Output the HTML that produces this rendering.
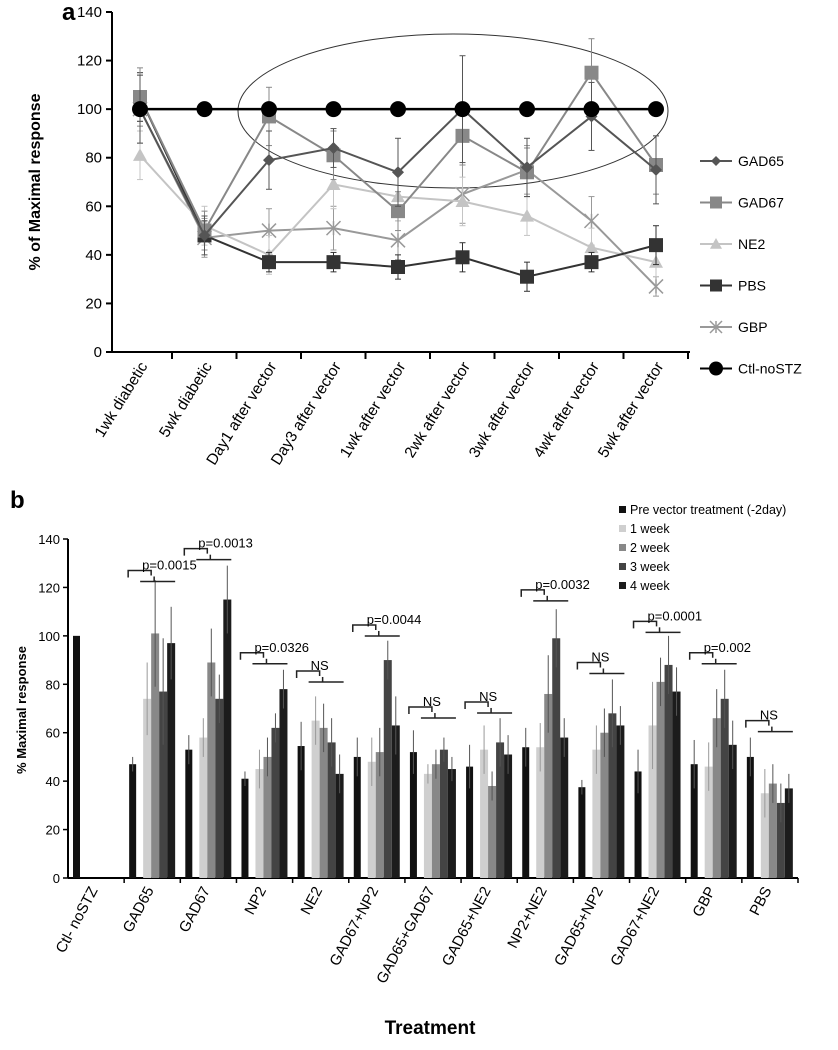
<!DOCTYPE html>
<html><head><meta charset="utf-8">
<style>
html,body{margin:0;padding:0;background:#fff;}
svg{display:block;font-family:"Liberation Sans",sans-serif;}
</style></head>
<body>
<svg id="fig" width="838" height="1050" viewBox="0 0 838 1050">
<g id="pa"></g>
<g id="pb"></g>
</svg>
<script>
// ---- Panel a data ----
const aCats = ["1wk diabetic","5wk diabetic","Day1 after vector","Day3 after vector","1wk after vector","2wk after vector","3wk after vector","4wk after vector","5wk after vector"];
const aTicks = [0,20,40,60,80,100,120,140];
const aNames = ["GAD65","GAD67","NE2","PBS","GBP","Ctl-noSTZ"];
const gad65 = [100,48,79,84,74,100,76,97,75];
const gad67 = [105,50,97,81,58,89,74,115,77];
const ne2 = [81,52,40,69,64,62,56,43,37];
const pbs = [105,48,37,37,35,39,31,37,44];
const gbp = [100,47,50,51,46,65,75,54,27];
const ctl = [100,100,100,100,100,100,100,100,100];
const gad65Err = [14,8,12,8,14,22,12,14,14];
const gad67Err = [12,8,12,10,8,12,10,14,12];
const ne2Err = [10,8,8,10,10,10,8,8,6];
const pbsErr = [10,6,4,4,5,6,6,4,8];
const gbpErr = [14,8,9,9,8,12,10,10,4];

// ---- Panel b data ----
const bCats = ["Ctl- noSTZ","GAD65","GAD67","NP2","NE2","GAD67+NP2","GAD65+GAD67","GAD65+NE2","NP2+NE2","GAD65+NP2","GAD67+NE2","GBP","PBS"];
const bTicks = [0,20,40,60,80,100,120,140];
const bSeries = ["Pre vector treatment (-2day)","1 week","2 week","3 week","4 week"];
const preVals = [100,47,53,41,54.5,50,52,46,54,37.5,44,47,50];
const wk1Vals = [null,74,58,45,65,48,43,53,54,53,63,46,35];
const wk2Vals = [null,101,89,50,62,52,47,38,76,60,81,66,39];
const wk3Vals = [null,77,74,62,56,90,53,56,99,68,88,74,31];
const wk4Vals = [null,97,115,78,43,63,45,51,58,63,77,55,37];
const preErr = [0,3,6,3,10,8,9,9,8,3,9,10,8];
const wk1Err = [null,15,8,8,10,10,4,10,10,10,18,10,10];
const wk2Err = [null,22,14,8,10,10,6,6,16,10,10,12,8];
const wk3Err = [null,22,10,6,10,8,5,10,12,14,12,12,8];
const wk4Err = [null,15,14,8,8,12,5,8,8,8,10,10,6];
const annLabels = [null,"p=0.0015","p=0.0013","p=0.0326","NS","p=0.0044","NS","NS","p=0.0032","NS","p=0.0001","p=0.002","NS"];
const annLevels = [null,127,136,93,85.5,104.5,70.6,72.7,119,89,106,93,65];

const NS="http://www.w3.org/2000/svg";
function mk(parent,tag,attrs,text){const e=document.createElementNS(NS,tag);for(const k in attrs)e.setAttribute(k,attrs[k]);if(text!==undefined)e.textContent=text;parent.appendChild(e);return e;}

// ===== Panel A =====
const pa=document.getElementById('pa');
const aX0=112, aX1=690, aY0=352, aY1=12;
const ay=v=>aY0-(v/140)*(aY0-aY1);
const ax=i=>140+i*64.5;
let t=mk(pa,'text',{x:62,y:20,'font-size':24,'font-weight':'bold'},'a');


let ax1=mk(pa,'line',{x1:aX0,y1:aY1,x2:aX0,y2:aY0,stroke:'#000','stroke-width':2});


let ax2=mk(pa,'line',{x1:aX0,y1:aY0,x2:aX1,y2:aY0,stroke:'#000','stroke-width':2});


aTicks.forEach(v=>{
  mk(pa,'line',{x1:aX0-6,y1:ay(v),x2:aX0,y2:ay(v),stroke:'#000','stroke-width':2});
  const l=mk(pa,'text',{x:aX0-10,y:ay(v)+5,'font-size':15,'text-anchor':'end'},v);
  
  
});
aCats.forEach((c,i)=>{
  const tx=ax(i)+32;
  mk(pa,'line',{x1:tx,y1:aY0,x2:tx,y2:aY0+7,stroke:'#000','stroke-width':2});
  const lx=ax(i)+8, ly=aY0+14;
  const l=mk(pa,'text',{x:lx,y:ly,'font-size':15.5,'text-anchor':'end',transform:`rotate(-58 ${lx} ${ly})`},c);
  
  
});
let yt=mk(pa,'text',{x:40,y:182,'font-size':16,'font-weight':'bold','text-anchor':'middle',transform:'rotate(-90 40 182)'},'% of Maximal response');


let ell=mk(pa,'ellipse',{cx:453,cy:111,rx:215,ry:77,fill:'none',stroke:'#333','stroke-width':1});



const aSeries=[
 {d:gbp,e:gbpErr,c:'#999',m:'x',n:'GBP'},
 {d:ne2,e:ne2Err,c:'#c4c4c4',m:'tri',n:'NE2'},
 {d:pbs,e:pbsErr,c:'#333',m:'sq',n:'PBS'},
 {d:gad67,e:gad67Err,c:'#888',m:'sq',n:'GAD67'},
 {d:gad65,e:gad65Err,c:'#555',m:'dia',n:'GAD65'},
 {d:ctl,e:null,c:'#000',m:'circ',n:'Ctl-noSTZ'}];
function marker(g,m,x,y,c,s){
  if(m==='sq')return mk(g,'rect',{x:x-s,y:y-s,width:2*s,height:2*s,fill:c});
  if(m==='circ')return mk(g,'circle',{cx:x,cy:y,r:s,fill:c});
  if(m==='dia')return mk(g,'polygon',{points:`${x},${y-s} ${x+s},${y} ${x},${y+s} ${x-s},${y}`,fill:c});
  if(m==='tri')return mk(g,'polygon',{points:`${x},${y-s} ${x+s},${y+s*0.8} ${x-s},${y+s*0.8}`,fill:c});
  const gg=mk(g,'g',{stroke:c,'stroke-width':1.5});
  mk(gg,'line',{x1:x-s,y1:y-s,x2:x+s,y2:y+s});mk(gg,'line',{x1:x-s,y1:y+s,x2:x+s,y2:y-s});mk(gg,'line',{x1:x,y1:y-s,x2:x,y2:y+s});
  return gg;
}
const sizes={sq:7,circ:8,dia:6,tri:7,x:7};
aSeries.forEach(s=>{
  const g=mk(pa,'g',{});
  
  
  if(s.e) s.d.forEach((v,i)=>{mk(g,'line',{x1:ax(i),y1:ay(v-s.e[i]),x2:ax(i),y2:ay(v+s.e[i]),stroke:s.c,'stroke-width':1});
    mk(g,'line',{x1:ax(i)-3,y1:ay(v+s.e[i]),x2:ax(i)+3,y2:ay(v+s.e[i]),stroke:s.c});
    mk(g,'line',{x1:ax(i)-3,y1:ay(v-s.e[i]),x2:ax(i)+3,y2:ay(v-s.e[i]),stroke:s.c});});
  mk(g,'polyline',{points:s.d.map((v,i)=>ax(i)+','+ay(v)).join(' '),fill:'none',stroke:s.c,'stroke-width':s.n==='Ctl-noSTZ'?2.5:2});
  s.d.forEach((v,i)=>{const mm=marker(g,s.m,ax(i),ay(v),s.c,sizes[s.m]);
    
    });
});
const legA=[{n:'GAD65',c:'#555',m:'dia'},{n:'GAD67',c:'#888',m:'sq'},{n:'NE2',c:'#c4c4c4',m:'tri'},{n:'PBS',c:'#333',m:'sq'},{n:'GBP',c:'#999',m:'x'},{n:'Ctl-noSTZ',c:'#000',m:'circ'}];
legA.forEach((l,i)=>{
  const y=161+i*41.5;
  const g=mk(pa,'g',{});
  
  
  mk(g,'line',{x1:700,y1:y,x2:732,y2:y,stroke:l.c,'stroke-width':2});
  marker(g,l.m,716,y,l.c,sizes[l.m]-1);
  mk(g,'text',{x:738,y:y+5,'font-size':14},l.n);
});

// ===== Panel B =====
const pb=document.getElementById('pb');
const bX0=68, bX1=798, bY0=878, bY1=539;
const by=v=>bY0-(v/140)*(bY0-bY1);
const gw=(bX1-bX0)/bCats.length;
const gx=i=>bX0+i*gw;
let tb=mk(pb,'text',{x:10,y:508,'font-size':24,'font-weight':'bold'},'b');


let bya=mk(pb,'line',{x1:bX0,y1:bY1,x2:bX0,y2:bY0,stroke:'#000','stroke-width':2});


let bxa=mk(pb,'line',{x1:bX0,y1:bY0,x2:bX1,y2:bY0,stroke:'#000','stroke-width':2});


bTicks.forEach(v=>{
  mk(pb,'line',{x1:bX0-5,y1:by(v),x2:bX0,y2:by(v),stroke:'#000','stroke-width':1.5});
  const l=mk(pb,'text',{x:bX0-8,y:by(v)+5,'font-size':13,'text-anchor':'end'},v);
  
  
});
let byt=mk(pb,'text',{x:26,y:710,'font-size':13,'font-weight':'bold','text-anchor':'middle',transform:'rotate(-90 26 710)'},'% Maximal response');


let xtt=mk(pb,'text',{x:430,y:1034,'font-size':19,'font-weight':'bold','text-anchor':'middle'},'Treatment');


const bCols=['#111','#cfcfcf','#888','#444','#1c1c1c'];
const allV=[preVals,wk1Vals,wk2Vals,wk3Vals,wk4Vals];
const allE=[preErr,wk1Err,wk2Err,wk3Err,wk4Err];
const barOff=[5,19,27,35,43], barW=[7,8,8,8,8];
bCats.forEach((c,i)=>{
  const g0=gx(i);
  mk(pb,'line',{x1:g0+gw,y1:bY0,x2:g0+gw,y2:bY0+5,stroke:'#000','stroke-width':1.5});
  const lx=g0+gw/2+2;
  const l=mk(pb,'text',{x:lx,y:bY0+12,'font-size':15,'text-anchor':'end',transform:`rotate(-62 ${lx} ${bY0+12})`},c);
  
  
  allV.forEach((arr,k)=>{
    const v=arr[i]; if(v===null)return;
    const x=g0+barOff[k];
    const r=mk(pb,'rect',{x:x,y:by(v),width:barW[k],height:bY0-by(v),fill:bCols[k]});
    
    
    const e=allE[k][i];
    if(e) mk(pb,'line',{x1:x+barW[k]/2,y1:by(v-e),x2:x+barW[k]/2,y2:by(v+e),stroke:k===1?'#999':'#555','stroke-width':1});
  });
  if(annLabels[i]){
    const yT=by(annLevels[i]);
    const g=mk(pb,'g',{stroke:'#222','stroke-width':1.5,fill:'none'});
    
    
    mk(g,'polyline',{points:`${g0+4},${yT+7} ${g0+4},${yT} ${g0+27},${yT} ${g0+27},${yT+5}`});
    mk(g,'line',{x1:g0+16,y1:yT+11,x2:g0+51,y2:yT+11});
    mk(g,'line',{x1:g0+30,y1:yT+6,x2:g0+30,y2:yT+11});
    const at=mk(pb,'text',{x:g0+18,y:yT-1,'font-size':13},annLabels[i]);
    
    
  }
});
bSeries.forEach((s,k)=>{
  const y=511+k*19;
  const g=mk(pb,'g',{});
  
  
  mk(g,'rect',{x:619,y:y-5,width:7,height:7,fill:bCols[k]});
  mk(g,'text',{x:630,y:y+3,'font-size':12.5},s);
});
</script>
</body></html>
